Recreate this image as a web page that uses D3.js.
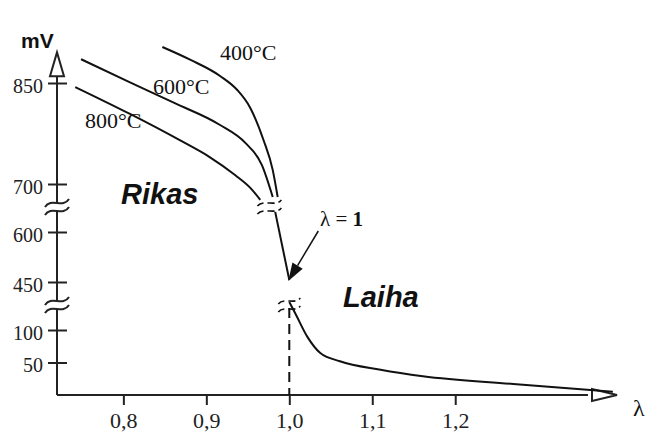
<!DOCTYPE html>
<html lang="en">
<head>
<meta charset="UTF-8"/>
<title>Lambda sensor voltage</title>
<script src="https://cdn.jsdelivr.net/npm/d3@7"></script>
<style>
    html, body { margin: 0; background: white; }
    .serif { font-family: "Liberation Serif", "Times New Roman", serif; }
    .sans { font-family: "Liberation Sans", Arial, sans-serif; }
</style>
</head>
<body>
<div id="container"></div>
<script>
    // y axis has two breaks, so the scale is piecewise
    const yTicks = [50, 100, 450, 600, 700, 850]
    const xTicks = [0.8, 0.9, 1.0, 1.1, 1.2]

    // lambda, mV
    const curve800 = [[0.742, 844], [0.808, 804], [0.868, 765], [0.904, 740], [0.935, 713], [0.953, 692], [0.965, 667]]
    const curve600 = [[0.749, 885], [0.808, 851], [0.862, 820], [0.916, 788], [0.947, 761], [0.967, 728], [0.980, 673]]
    const curve400 = [[0.847, 903], [0.881, 884], [0.917, 860], [0.937, 840], [0.953, 813], [0.969, 765], [0.980, 721], [0.986, 673]]
    const steepPart = [[0.983, 642], [1.0, 456]]
    const leanPart = [[1.0, 304], [1.007, 224], [1.022, 89], [1.037, 65], [1.061, 52],
        [1.110, 39], [1.161, 29], [1.270, 17], [1.390, 5]]

    const width = 647, height = 437

    const x = d3.scaleLinear().domain([0.72, 1.395]).range([57, 617])
    const y = d3.scaleLinear()
        .domain([0, 100, 450, 600, 700, 850, 900])
        .range([395, 330, 282, 232, 184, 83, 49])

    const svg = d3.select('#container').append('svg')
        .attr('width', width)
        .attr('height', height)

    svg.append('rect').attr('width', width).attr('height', height).attr('fill', 'white')

    // axes
    const xAxis = svg.append('g')
        .attr('transform', `translate(0,${y(0)})`)
        .call(d3.axisBottom(x).tickValues(xTicks).tickSizeInner(10).tickSizeOuter(0).tickPadding(7)
            .tickFormat(d => d.toFixed(1).replace('.', ',')))
    xAxis.select('.domain').remove()
    xAxis.selectAll('line').attr('stroke', '#222').attr('stroke-width', 2)
    xAxis.selectAll('text').attr('class', 'serif').attr('font-size', 22).attr('fill', '#222')

    const yAxis = svg.append('g')
        .attr('transform', `translate(${x(0.72)},0)`)
        .call(d3.axisLeft(y).tickValues(yTicks).tickSizeInner(9).tickPadding(5))
    yAxis.select('.domain').remove()
    yAxis.selectAll('line').attr('x1', 10).attr('stroke', '#222').attr('stroke-width', 2)
    yAxis.selectAll('text').attr('class', 'serif').attr('font-size', 20).attr('fill', '#222')
        .attr('dy', '0.45em')

    const x0 = x(0.72), y0 = y(0)
    svg.append('path')
        .attr('d', `M${x0},${y0}H${x(1.36)}M${x0},${y0}V${y(885)}`)
        .attr('stroke', '#222').attr('stroke-width', 2).attr('fill', 'none')

    // open arrow heads
    const xEnd = x(1.395)
    svg.append('path')
        .attr('d', `M${xEnd},${y0}L${xEnd - 25},${y0 - 6}L${xEnd - 25},${y0 + 6}Z`)
        .attr('fill', 'white').attr('stroke', '#222').attr('stroke-width', 2)
    svg.append('path')
        .attr('d', `M${x0},${y(895)}L${x0 - 7},${y(860)}L${x0 + 7},${y(860)}Z`)
        .attr('fill', 'white').attr('stroke', '#222').attr('stroke-width', 2)

    // break marks: two S shapes with a gap between
    function breakMark(cx, cy, w, gap) {
        const g = svg.append('g')
        g.append('rect')
            .attr('x', cx - 4).attr('y', cy - gap / 2)
            .attr('width', 8).attr('height', gap)
            .attr('fill', 'white')
        for (const dy of [-gap / 2, gap / 2]) {
            g.append('path')
                .attr('d', `M${cx - w / 2},${cy + dy + 4}C${cx - w / 4},${cy + dy - 6} ${cx + w / 4},${cy + dy + 6} ${cx + w / 2},${cy + dy - 4}`)
                .attr('fill', 'none').attr('stroke', '#222').attr('stroke-width', 2)
        }
    }
    breakMark(x0, (y(700) + y(600)) / 2 - 1, 24, 8)
    breakMark(x0, (y(450) + y(100)) / 2 - 1, 24, 8)

    // curves
    const line = d3.line().x(d => x(d[0])).y(d => y(d[1])).curve(d3.curveMonotoneX)
    for (const c of [curve800, curve600, curve400, steepPart, leanPart]) {
        svg.append('path')
            .attr('d', line(c))
            .attr('fill', 'none').attr('stroke', '#111').attr('stroke-width', 2)
    }

    // small breaks on the curves
    function curveBreak(cx, cy, w) {
        for (const dy of [-4, 4]) {
            svg.append('path')
                .attr('d', `M${cx - w / 2},${cy + dy + 3}C${cx - w / 4},${cy + dy - 4} ${cx + w / 4},${cy + dy + 4} ${cx + w / 2},${cy + dy - 3}`)
                .attr('fill', 'none').attr('stroke', '#111').attr('stroke-width', 1.6)
                .attr('stroke-dasharray', '7,4')
        }
    }
    curveBreak(x(0.976), y(652), 24)
    curveBreak(x(1.0), (y(450) + y(100)) / 2 - 1, 22)

    // dashed lambda = 1 line
    svg.append('line')
        .attr('x1', x(1.0)).attr('x2', x(1.0))
        .attr('y1', y(260)).attr('y2', y0)
        .attr('stroke', '#111').attr('stroke-width', 2)
        .attr('stroke-dasharray', '10,6')

    // arrow to lambda = 1
    const tip = [x(1.0) - 1, y(450) - 1]
    const tail = [tip[0] + 30, tip[1] - 50]
    const ang = Math.atan2(tip[1] - tail[1], tip[0] - tail[0])
    const hl = 18, hw = 6
    const bx = tip[0] - Math.cos(ang) * hl, by = tip[1] - Math.sin(ang) * hl
    svg.append('line')
        .attr('x1', tail[0]).attr('y1', tail[1])
        .attr('x2', bx).attr('y2', by)
        .attr('stroke', '#111').attr('stroke-width', 1.5)
    svg.append('path')
        .attr('d', `M${tip[0]},${tip[1]}L${bx - Math.sin(ang) * hw},${by + Math.cos(ang) * hw}L${bx + Math.sin(ang) * hw},${by - Math.cos(ang) * hw}Z`)
        .attr('fill', '#111')

    // texts
    const texts = [
        {t: 'mV', x: 21, y: 48, cls: 'sans', size: 21, weight: 'bold'},
        {t: 'λ', x: 633, y: 416, cls: 'serif', size: 24},
        {t: '400°C', x: 220, y: 60, cls: 'serif', size: 22},
        {t: '600°C', x: 153, y: 94, cls: 'serif', size: 22},
        {t: '800°C', x: 85, y: 128, cls: 'serif', size: 22},
    ]
    for (const d of texts) {
        svg.append('text')
            .attr('class', d.cls)
            .attr('x', d.x).attr('y', d.y)
            .attr('font-size', d.size)
            .attr('font-weight', d.weight || 'normal')
            .attr('fill', '#111')
            .text(d.t)
    }

    const lam = svg.append('text').attr('class', 'serif').attr('x', 320).attr('y', 226)
        .attr('font-size', 21).attr('fill', '#111')
    lam.append('tspan').text('λ = ')
    lam.append('tspan').attr('font-weight', 'bold').text('1')

    svg.append('text').attr('class', 'sans')
        .attr('x', 121).attr('y', 204)
        .attr('font-size', 29).attr('font-weight', 'bold').attr('font-style', 'italic')
        .attr('fill', '#111').text('Rikas')
    svg.append('text').attr('class', 'sans')
        .attr('x', 343).attr('y', 307)
        .attr('font-size', 29).attr('font-weight', 'bold').attr('font-style', 'italic')
        .attr('fill', '#111').text('Laiha')
</script>
</body>
</html>
